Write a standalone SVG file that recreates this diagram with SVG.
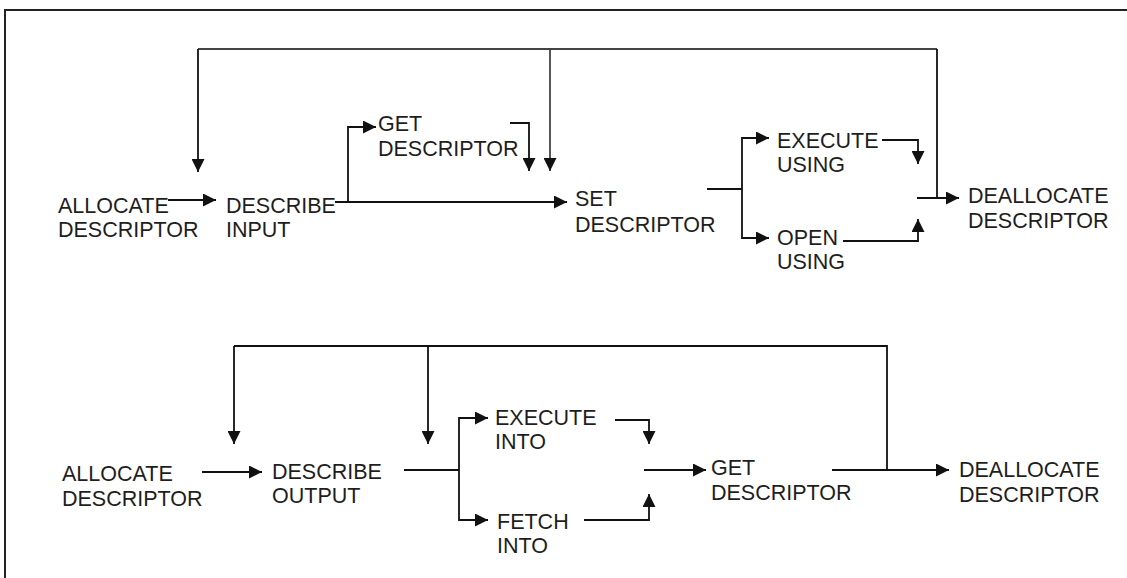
<svg xmlns="http://www.w3.org/2000/svg" width="1127" height="578" viewBox="0 0 1127 578">
<defs>
<marker id="ah" markerUnits="userSpaceOnUse" markerWidth="13" markerHeight="13" refX="13" refY="6.5" orient="auto">
<path d="M0,0 L13,6.5 L0,13 z" fill="#111"/>
</marker>
<style>
text{font-family:"Liberation Sans",Arial,sans-serif;font-size:21.5px;fill:#1e1e1e}
.c path{fill:none;stroke:#111;stroke-width:1.8}
.c path.a{marker-end:url(#ah)}
.c path.fb{stroke:#444}
.frame{fill:none;stroke:#222;stroke-width:2}
</style>
</defs>
<rect width="1127" height="578" fill="#fff"/>
<path class="frame" d="M5,578 V10 H1127"/>

<g id="n-alloc1"><text x="58" y="213">ALLOCATE</text><text x="58" y="237">DESCRIPTOR</text></g>
<g id="n-descin"><text x="226" y="213">DESCRIBE</text><text x="226" y="237">INPUT</text></g>
<g id="n-getdesc1"><text x="378" y="131">GET</text><text x="378" y="156">DESCRIPTOR</text></g>
<g id="n-setdesc"><text x="575" y="206">SET</text><text x="575" y="232">DESCRIPTOR</text></g>
<g id="n-execusing"><text x="777" y="148">EXECUTE</text><text x="777" y="172">USING</text></g>
<g id="n-openusing"><text x="777" y="245">OPEN</text><text x="777" y="269">USING</text></g>
<g id="n-dealloc1"><text x="968" y="203">DEALLOCATE</text><text x="968" y="228">DESCRIPTOR</text></g>

<g id="n-alloc2"><text x="62" y="481">ALLOCATE</text><text x="62" y="506">DESCRIPTOR</text></g>
<g id="n-descout"><text x="272" y="479">DESCRIBE</text><text x="272" y="503">OUTPUT</text></g>
<g id="n-execinto"><text x="495" y="425">EXECUTE</text><text x="495" y="449">INTO</text></g>
<g id="n-fetchinto"><text x="497" y="529">FETCH</text><text x="497" y="553">INTO</text></g>
<g id="n-getdesc2"><text x="711" y="475">GET</text><text x="711" y="500">DESCRIPTOR</text></g>
<g id="n-dealloc2"><text x="959" y="477">DEALLOCATE</text><text x="959" y="502">DESCRIPTOR</text></g>

<g id="connectors" class="c">
<path class="fb" d="M198,49 H937"/>
<path class="a" d="M198,49 V172"/>
<path class="a fb" d="M550,49 V171"/>
<path d="M937,49 V198"/>
<path class="a" d="M168,200 H216"/>
<path class="a" d="M335,202 H567"/>
<path class="a" d="M348,202 V127 H376"/>
<path class="a" d="M510,123 H529 V171"/>
<path d="M707,189 H742"/>
<path class="a" d="M742,190 V138 H769"/>
<path class="a" d="M742,190 V238 H769"/>
<path class="a" d="M882,140 H918 V164"/>
<path class="a" d="M843,241 H918 V219"/>
<path class="a" d="M917,198 H959"/>

<path d="M234,346 H887 V470"/>
<path class="a" d="M234,346 V444"/>
<path class="a" d="M428,346 V444"/>
<path class="a" d="M202,472 H262"/>
<path d="M404,470 H459"/>
<path class="a" d="M459,470 V418 H488"/>
<path class="a" d="M459,470 V520 H488"/>
<path class="a" d="M615,420 H649 V444"/>
<path class="a" d="M584,520 H649 V494"/>
<path class="a" d="M644,470 H706"/>
<path class="a" d="M832,470 H949"/>
</g>
</svg>
